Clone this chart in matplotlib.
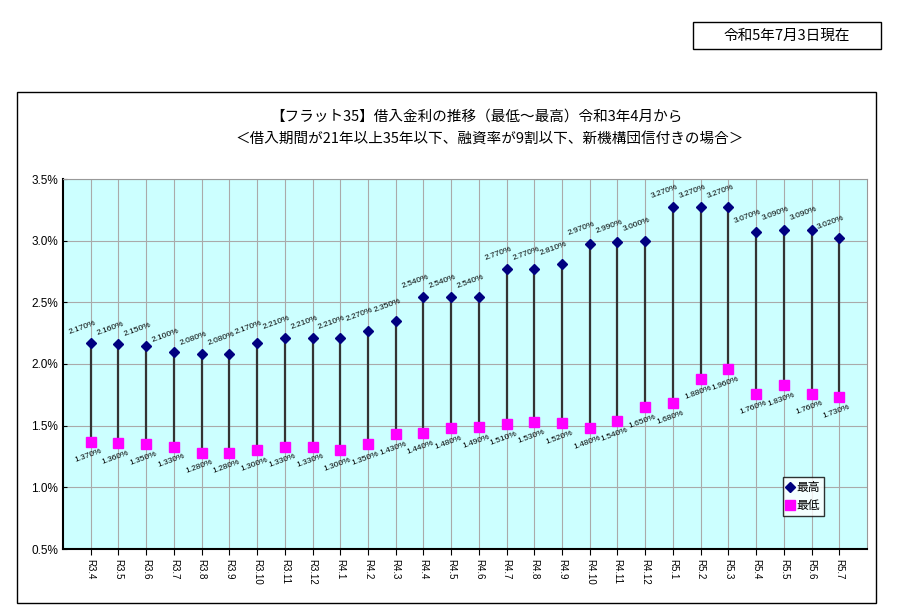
import numpy as np
import matplotlib
matplotlib.use('Agg')
import matplotlib.pyplot as plt
from matplotlib.patches import Rectangle
from matplotlib.ticker import FuncFormatter

plt.rcParams['font.family'] = ['Noto Sans CJK JP', 'DejaVu Sans']

# month labels (reiwa year.month)
months = ['R3.4', 'R3.5', 'R3.6', 'R3.7', 'R3.8', 'R3.9', 'R3.10', 'R3.11', 'R3.12',
          'R4.1', 'R4.2', 'R4.3', 'R4.4', 'R4.5', 'R4.6', 'R4.7', 'R4.8', 'R4.9',
          'R4.10', 'R4.11', 'R4.12', 'R5.1', 'R5.2', 'R5.3', 'R5.4', 'R5.5', 'R5.6', 'R5.7']

# highest and lowest rates (%)
rate_high = [2.17, 2.16, 2.15, 2.10, 2.08, 2.08, 2.17, 2.21, 2.21, 2.21, 2.27, 2.35,
             2.54, 2.54, 2.54, 2.77, 2.77, 2.81, 2.97, 2.99, 3.00, 3.27, 3.27, 3.27,
             3.07, 3.09, 3.09, 3.02]
rate_low = [1.37, 1.36, 1.35, 1.33, 1.28, 1.28, 1.30, 1.33, 1.33, 1.30, 1.35, 1.43,
            1.44, 1.48, 1.49, 1.51, 1.53, 1.52, 1.48, 1.54, 1.65, 1.68, 1.88, 1.96,
            1.76, 1.83, 1.76, 1.73]

title_1 = '【フラット35】借入金利の推移（最低～最高）令和3年4月から'
title_2 = '＜借入期間が21年以上35年以下、融資率が9割以下、新機構団信付きの場合＞'
date_note = '令和5年7月3日現在'

fig = plt.figure(figsize=(9.01, 6.13), dpi=100)

# outer frame of the chart
fig.patches.append(Rectangle((17 / 901, 1 - 603 / 613), (876 - 17) / 901, (603 - 92) / 613,
                             transform=fig.transFigure, fill=False, edgecolor='black', lw=1.0))
# date box
fig.patches.append(Rectangle((693 / 901, 1 - 49 / 613), (881 - 693) / 901, 27 / 613,
                             transform=fig.transFigure, fill=False, edgecolor='black', lw=1.0))
fig.text(787 / 901, 1 - 36 / 613, date_note, ha='center', va='center', fontsize=10.5)

fig.text(476 / 901, 1 - 117 / 613, title_1, ha='center', va='center', fontsize=10.5)
fig.text(490 / 901, 1 - 139 / 613, title_2, ha='center', va='center', fontsize=10.5)

ax = fig.add_axes([63 / 901, 1 - 549 / 613, (867 - 63) / 901, (549 - 179) / 613])
ax.set_facecolor('#CCFFFF')

x = np.arange(len(months))
ax.vlines(x, rate_low, rate_high, color='#333333', lw=1.6, zorder=2)
ax.plot(x, rate_high, linestyle='none', marker='D', color='#000080', markersize=5, zorder=3, label='最高')
ax.plot(x, rate_low, linestyle='none', marker='s', color='#FF00FF', markersize=7, zorder=3, label='最低')

for i in range(len(months)):
    ax.text(x[i] - 0.3, rate_high[i] + 0.06, '%.3f%%' % rate_high[i], ha='center', va='bottom',
            fontsize=6, rotation=20, family='Liberation Sans')
    ax.text(x[i] - 0.1, rate_low[i] - 0.05, '%.3f%%' % rate_low[i], ha='center', va='top',
            fontsize=6, rotation=20, family='Liberation Sans')

ax.set_xlim(-1, len(months))
ax.set_ylim(0.5, 3.5)
ax.set_yticks(np.arange(0.5, 3.51, 0.5))
ax.yaxis.set_major_formatter(FuncFormatter(lambda v, p: '%.1f%%' % v))
ax.set_xticks(x)
ax.set_xticklabels(months, rotation=-90, fontsize=7, family='Liberation Sans')
ax.tick_params(axis='y', labelsize=8.5, length=3, direction='in')
ax.tick_params(axis='x', length=4, direction='out')
for lab in ax.get_yticklabels():
    lab.set_family('Liberation Sans')

ax.grid(True, color='#AAAAAA', lw=0.8)
ax.set_axisbelow(True)
for side in ['left', 'bottom']:
    ax.spines[side].set_linewidth(1.5)
ax.spines['top'].set_color('#999999')
ax.spines['right'].set_color('#999999')

leg = ax.legend(loc='upper left', bbox_to_anchor=(0.895, 0.195), fontsize=8.5, frameon=True,
                fancybox=False, edgecolor='black', handlelength=0.6, handletextpad=0.2,
                borderpad=0.35, labelspacing=0.45, borderaxespad=0)
leg.get_frame().set_linewidth(1.0)

plt.savefig('out.png', dpi=100)
